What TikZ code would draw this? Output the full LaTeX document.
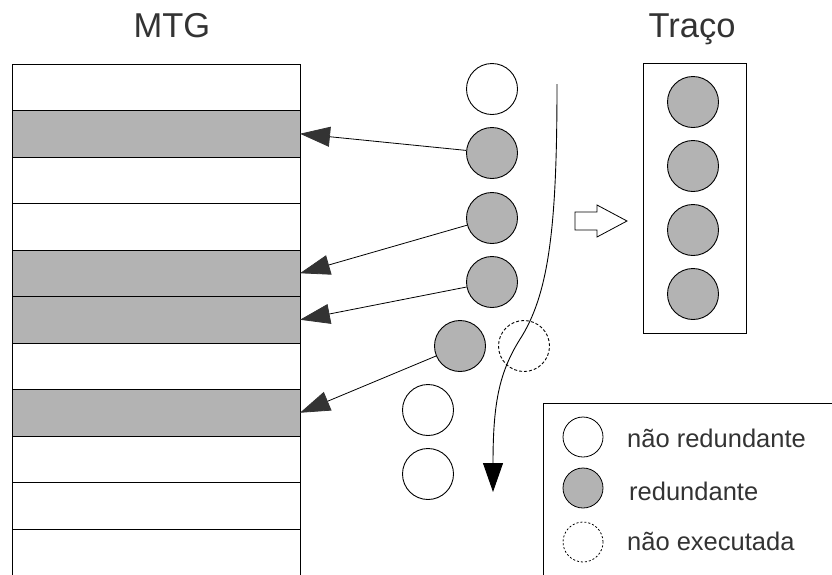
\documentclass[tikz,border=0pt]{standalone}
\usepackage{fontspec}
\setmainfont{Liberation Sans}
\usetikzlibrary{arrows.meta}
\definecolor{cellgray}{HTML}{B3B3B3}
\definecolor{txt}{HTML}{333333}
\definecolor{tipc}{HTML}{333333}
\tikzset{
  row/.style={draw=black, line width=0.8pt, minimum width=288pt, minimum height=46.5pt, inner sep=0pt, outer sep=0pt},
  grayrow/.style={row, fill=cellgray},
  whiterow/.style={row, fill=white},
  instr/.style={circle, draw=black, line width=0.9pt, minimum size=51pt, inner sep=0pt},
  red/.style={instr, fill=cellgray},
  nred/.style={instr, fill=white},
  nexec/.style={instr, dash pattern=on 3pt off 2pt},
  legc/.style={circle, draw=black, line width=0.8pt, minimum size=40pt, inner sep=0pt},
  legtxt/.style={anchor=west, text=txt, font=\fontsize{25.5}{30}\selectfont, inner sep=0pt},
  title/.style={anchor=base, text=txt, font=\fontsize{34.5}{40}\selectfont, inner sep=0pt},
  link/.style={draw=black, line width=0.8pt, -{Triangle[length=30pt, width=20pt, fill=tipc, color=tipc]}},
}
\begin{document}
\begin{tikzpicture}[x=1pt, y=-1pt]
\useasboundingbox (0,0) rectangle (832,574);
\clip (0,0) rectangle (832,574);
% titles
\node[title] (tmtg) at (172,37) {MTG};
\node[title] (ttr) at (692,37) {Traço};
% MTG table
\node[whiterow] (r1) at (156,87.25) {};
\node[grayrow]  (r2) at (156,133.75) {};
\node[whiterow] (r3) at (156,180.25) {};
\node[whiterow] (r4) at (156,226.75) {};
\node[grayrow]  (r5) at (156,273.25) {};
\node[grayrow]  (r6) at (156,319.75) {};
\node[whiterow] (r7) at (156,366.25) {};
\node[grayrow]  (r8) at (156,412.75) {};
\node[whiterow] (r9) at (156,459.25) {};
\node[whiterow] (r10) at (156,505.75) {};
\node[whiterow] (r11) at (156,552.25) {};
% instruction stream
\node[nred] (c1) at (492,89) {};
\node[red]  (c2) at (492,153) {};
\node[red]  (c3) at (492,218) {};
\node[red]  (c4) at (492,282) {};
\node[red]  (c5) at (460,346) {};
\node[nexec] (c6) at (524,346) {};
\node[nred] (c7) at (428,410) {};
\node[nred] (c8) at (428,474) {};
% links to MTG
\draw[link] (c2) -- (r2.east);
\draw[link] (c3) -- (r5.east);
\draw[link] (c4) -- (r6.east);
\draw[link] (c5) -- (r8.east);
% flow arrow
\coordinate (fs) at (557,84);
\coordinate (fm) at (522,336);
\coordinate (fe) at (493,492);
\draw[line width=0.9pt, -{Triangle[length=29pt, width=20pt]}] (fs) .. controls (557,220) and (550,290) .. (fm) .. controls (500,370) and (493,400) .. (fe);
% hollow arrow
\draw[line width=0.8pt, fill=white] (575,212) -- (597,212) -- (597,205) -- (627,221) -- (597,237) -- (597,230) -- (575,230) -- cycle;
% trace box
\node[draw=black, line width=0.9pt, minimum width=103pt, minimum height=270pt, inner sep=0pt] (trace) at (694.5,198) {};
\node[red] (t1) at (693,102) {};
\node[red] (t2) at (693,166) {};
\node[red] (t3) at (693,230) {};
\node[red] (t4) at (693,294) {};
% legend
\draw[line width=1pt] (543,620) -- (543,403) -- (850,403);
\node[legc, fill=white] (l1) at (583,437) {};
\node[legc, fill=cellgray] (l2) at (583,488) {};
\node[legc, dash pattern=on 2pt off 2pt] (l3) at (583,542) {};
\node[legtxt] (lt1) at (627,438) {não redundante};
\node[legtxt] (lt2) at (629,491) {redundante};
\node[legtxt] (lt3) at (627,541) {não executada};
\end{tikzpicture}
\end{document}
